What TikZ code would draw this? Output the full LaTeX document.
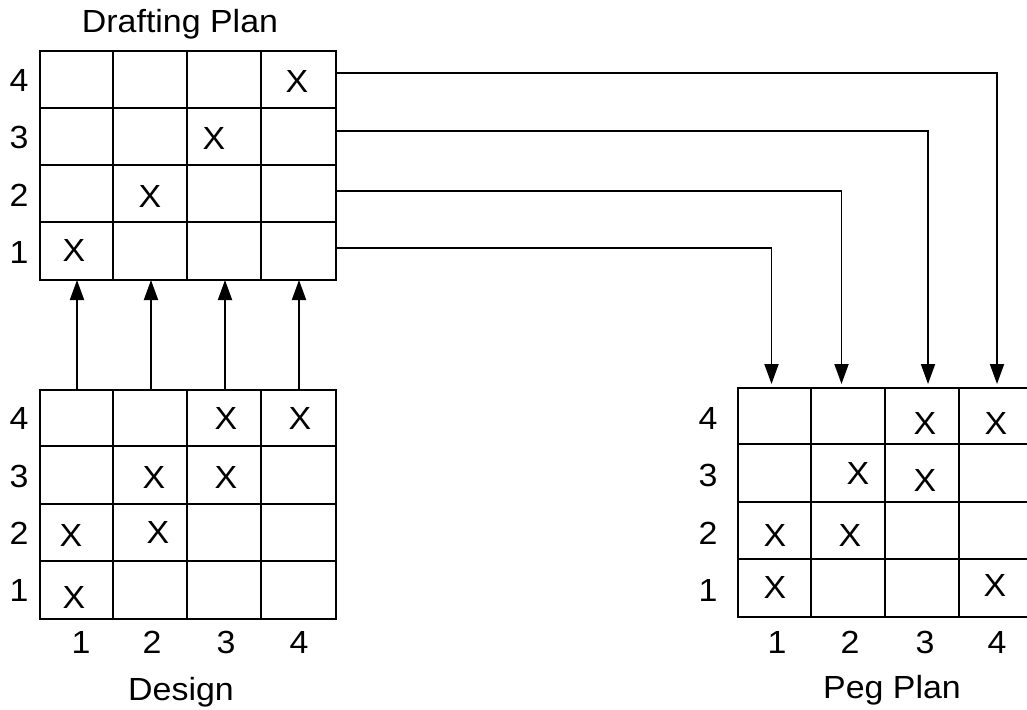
\documentclass[tikz,border=0pt]{standalone}
\usepackage{fontspec}
\setmainfont{Liberation Sans}
\usetikzlibrary{arrows.meta}
\begin{document}
\begin{tikzpicture}[x=1pt,y=-1pt,line width=2.2pt,
  lbl/.style={font=\fontsize{32}{38}\selectfont,inner sep=0pt,xscale=1.06},
  gridbox/.style={draw,line width=2.2pt,minimum width=296pt,minimum height=229pt,anchor=north west,inner sep=0pt},
  conn/.style={line width=1.9pt,-{Triangle[length=20pt,width=14pt]}}]
\useasboundingbox (0,0) rectangle (1027,709);

% ---------- Drafting plan ----------
\node[gridbox] (DP) at (39,50) {};
\foreach \c in {113,187,261} \draw (\c,50) -- (\c,279);
\foreach \r in {108,165,222} \draw (39,\r) -- (335,\r);
\node[lbl] (dptitle) at (180,24) {Drafting Plan};
\node[lbl] (dpr4) at (19,80) {4};
\node[lbl] (dpr3) at (19,137) {3};
\node[lbl] (dpr2) at (19,195) {2};
\node[lbl] (dpr1) at (19,252) {1};
\node[lbl] (dpx44) at (297,81) {X};
\node[lbl] (dpx33) at (214,138) {X};
\node[lbl] (dpx22) at (150,196) {X};
\node[lbl] (dpx11) at (74,250) {X};

% ---------- Design ----------
\node[gridbox] (DE) at (39,389) {};
\foreach \c in {113,187,261} \draw (\c,389) -- (\c,618);
\foreach \r in {446,504,561} \draw (39,\r) -- (335,\r);
\node[lbl] (der4) at (19,418) {4};
\node[lbl] (der3) at (19,476) {3};
\node[lbl] (der2) at (19,533) {2};
\node[lbl] (der1) at (19,590) {1};
\node[lbl] (dec1) at (81,642) {1};
\node[lbl] (dec2) at (152,642) {2};
\node[lbl] (dec3) at (226,642) {3};
\node[lbl] (dec4) at (299,642) {4};
\node[lbl] (detitle) at (181,692) {Design};
\node[lbl] (dex43) at (226,418) {X};
\node[lbl] (dex44) at (300,418) {X};
\node[lbl] (dex32) at (154,477) {X};
\node[lbl] (dex33) at (226,477) {X};
\node[lbl] (dex21) at (71,535) {X};
\node[lbl] (dex22) at (158,532) {X};
\node[lbl] (dex11) at (74,597) {X};

% ---------- Peg plan ----------
\node[gridbox] (PP) at (737,387) {};
\foreach \c in {811,885,959} \draw (\c,387) -- (\c,616);
\foreach \r in {444,502,559} \draw (737,\r) -- (1033,\r);
\node[lbl] (ppr4) at (708,418) {4};
\node[lbl] (ppr3) at (708,475) {3};
\node[lbl] (ppr2) at (708,533) {2};
\node[lbl] (ppr1) at (708,590) {1};
\node[lbl] (ppc1) at (777,642) {1};
\node[lbl] (ppc2) at (850,642) {2};
\node[lbl] (ppc3) at (925,642) {3};
\node[lbl] (ppc4) at (997,642) {4};
\node[lbl] (pptitle) at (892,690) {Peg Plan};
\node[lbl] (ppx43) at (925,423) {X};
\node[lbl] (ppx44) at (996,423) {X};
\node[lbl] (ppx32) at (858,473) {X};
\node[lbl] (ppx33) at (925,480) {X};
\node[lbl] (ppx21) at (775,535) {X};
\node[lbl] (ppx22) at (850,535) {X};
\node[lbl] (ppx11) at (775,587) {X};
\node[lbl] (ppx14) at (995,585) {X};

% ---------- connectors: design -> drafting ----------
\foreach \x [count=\i] in {77,151,225,299} {
  \coordinate (ds\i) at (\x,389);
  \coordinate (dt\i) at (\x,280);
  \draw[conn] (ds\i) -- (dt\i);
}

% ---------- connectors: drafting rows -> peg columns ----------
\foreach \y/\x [count=\i] in {248/771.5,191/841.5,131/928,73/997} {
  \coordinate (rs\i) at (335,\y);
  \coordinate (pt\i) at (\x,384);
  \draw[conn] (rs\i) -| (pt\i);
}
\end{tikzpicture}
\end{document}
